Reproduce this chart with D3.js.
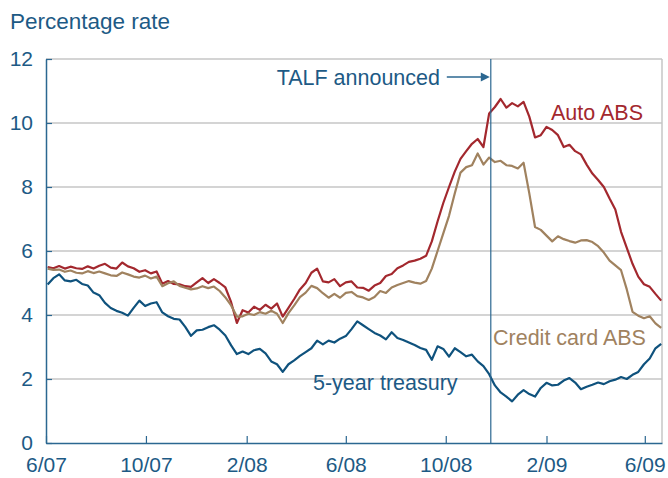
<!DOCTYPE html>
<html>
<head>
<meta charset="utf-8">
<script src="https://cdn.jsdelivr.net/npm/d3@7"></script>
<style>
  body { margin: 0; background: #fff; }
  svg text { font-family: "Liberation Sans", Arial, sans-serif; }
</style>
</head>
<body>
<svg id="chart" width="668" height="478"></svg>
<script>
// weekly observations, starting Sunday 3 June 2007
const firstWeek = "2007-06-03";
const weekCount = 108;

const autoABS = [5.50,5.46,5.53,5.45,5.51,5.46,5.44,5.52,5.45,5.54,
  5.60,5.48,5.45,5.64,5.52,5.46,5.35,5.40,5.30,5.36,
  4.98,5.06,4.97,4.96,4.90,4.88,5.02,5.15,5.00,5.12,
  5.00,4.86,4.40,3.75,4.15,4.08,4.26,4.16,4.32,4.20,
  4.36,3.95,4.22,4.50,4.80,5.00,5.32,5.45,5.05,5.02,
  5.12,4.90,5.02,5.05,4.86,4.85,4.76,4.92,5.00,5.22,
  5.28,5.46,5.55,5.66,5.70,5.76,5.85,6.30,6.92,7.50,
  8.00,8.48,8.88,9.12,9.35,9.50,9.25,10.30,10.50,10.75,
  10.48,10.62,10.52,10.66,10.20,9.55,9.62,9.88,9.78,9.62,
  9.25,9.32,9.12,9.02,8.70,8.42,8.22,8.00,7.64,7.30,
  6.60,6.10,5.60,5.20,4.96,4.88,4.66,4.45];

const creditCardABS = [5.45,5.41,5.42,5.35,5.39,5.32,5.30,5.37,5.31,5.36,
  5.30,5.24,5.22,5.33,5.27,5.20,5.17,5.23,5.14,5.20,
  4.90,4.99,5.05,4.91,4.85,4.80,4.83,4.90,4.84,4.89,
  4.75,4.55,4.30,3.95,3.96,4.04,4.00,4.09,4.04,4.13,
  4.04,3.75,4.06,4.30,4.56,4.70,4.91,4.84,4.68,4.54,
  4.66,4.54,4.69,4.72,4.59,4.55,4.47,4.56,4.75,4.69,
  4.86,4.94,5.00,5.06,5.01,4.98,5.06,5.45,6.00,6.55,
  7.10,7.80,8.45,8.62,8.68,9.05,8.70,8.92,8.78,8.82,
  8.68,8.66,8.58,8.76,7.80,6.75,6.66,6.48,6.30,6.46,
  6.37,6.31,6.26,6.33,6.34,6.28,6.15,5.95,5.70,5.55,
  5.40,4.80,4.10,3.98,3.90,3.96,3.74,3.60];

const treasury5y = [4.95,5.15,5.27,5.08,5.05,5.10,4.97,4.92,4.70,4.62,
  4.38,4.22,4.13,4.07,3.98,4.22,4.45,4.28,4.36,4.40,
  4.08,3.96,3.88,3.86,3.63,3.35,3.52,3.54,3.62,3.68,
  3.54,3.36,3.05,2.78,2.86,2.78,2.90,2.94,2.80,2.55,
  2.46,2.22,2.46,2.58,2.72,2.84,2.96,3.20,3.08,3.20,
  3.14,3.26,3.34,3.56,3.80,3.68,3.56,3.44,3.36,3.24,
  3.46,3.28,3.22,3.14,3.06,2.97,2.91,2.60,3.02,2.94,
  2.70,2.96,2.84,2.71,2.76,2.55,2.40,2.15,1.80,1.58,
  1.45,1.30,1.51,1.65,1.53,1.45,1.72,1.88,1.80,1.82,
  1.95,2.03,1.89,1.68,1.76,1.82,1.89,1.84,1.93,1.98,
  2.06,2.00,2.13,2.22,2.46,2.64,2.96,3.10];

const xTicks = ["2007-06-01","2007-10-01","2008-02-01","2008-06-01","2008-10-01","2009-02-01","2009-06-01"];
const yTicks = [0, 2, 4, 6, 8, 10, 12];
const talfDate = "2008-11-25";

const parse = d3.timeParse("%Y-%m-%d");
const weeks = d3.range(weekCount).map(i => d3.timeDay.offset(parse(firstWeek), 7 * i));

const textBlue = "#1d5a85";
const axisBlue = "#2b6791";

const margin = { left: 46, right: 6, top: 59, bottom: 35 };
const width = 668, height = 478;

const svg = d3.select("#chart");

const x = d3.scaleTime()
  .domain([parse("2007-06-01"), parse("2009-06-22")])
  .range([margin.left, width - margin.right]);

const y = d3.scaleLinear()
  .domain([0, 12])
  .range([height - margin.bottom, margin.top]);

// gridlines
svg.append("g")
  .selectAll("line")
  .data(yTicks.filter(d => d > 0))
  .join("line")
  .attr("x1", margin.left)
  .attr("x2", width - margin.right)
  .attr("y1", d => y(d))
  .attr("y2", d => y(d))
  .attr("stroke", "#c6c6c6")
  .attr("stroke-width", 1.5);

// right frame
svg.append("line")
  .attr("x1", width - margin.right).attr("x2", width - margin.right)
  .attr("y1", y(12)).attr("y2", y(0))
  .attr("stroke", "#c6c6c6")
  .attr("stroke-width", 1.5);

// series
const series = [
  { values: autoABS, color: "#a3282e" },
  { values: creditCardABS, color: "#a0825f" },
  { values: treasury5y, color: "#0f527d" }
];

const line = d3.line()
  .x((d, i) => x(weeks[i]))
  .y(d => y(d));

svg.append("g")
  .selectAll("path")
  .data(series)
  .join("path")
  .attr("fill", "none")
  .attr("stroke", d => d.color)
  .attr("stroke-width", 2.2)
  .attr("stroke-linejoin", "round")
  .attr("d", d => line(d.values));

// axes
const xAxis = d3.axisBottom(x)
  .tickValues(xTicks.map(parse))
  .tickFormat(d3.timeFormat("%-m/%y"))
  .tickSizeInner(-7)
  .tickSizeOuter(0)
  .tickPadding(14);

const yAxis = d3.axisLeft(y)
  .tickValues(yTicks)
  .tickFormat(d3.format("d"))
  .tickSizeInner(-6)
  .tickSizeOuter(0)
  .tickPadding(13);

const gx = svg.append("g")
  .attr("transform", `translate(0,${y(0)})`)
  .call(xAxis);

const gy = svg.append("g")
  .attr("transform", `translate(${margin.left},0)`)
  .call(yAxis);

[gx, gy].forEach(g => {
  g.select(".domain").attr("stroke", axisBlue).attr("stroke-width", 1.5);
  g.selectAll(".tick line").attr("stroke", axisBlue).attr("stroke-width", 1.2);
  g.selectAll(".tick text")
    .attr("fill", textBlue)
    .style("font-size", "21px");
});

// TALF marker
const talfX = x(parse(talfDate));
svg.append("line")
  .attr("x1", talfX).attr("x2", talfX)
  .attr("y1", y(12)).attr("y2", y(0))
  .attr("stroke", axisBlue)
  .attr("stroke-width", 1.2);

svg.append("line")
  .attr("x1", talfX - 44).attr("x2", talfX - 8)
  .attr("y1", 77).attr("y2", 77)
  .attr("stroke", axisBlue)
  .attr("stroke-width", 1.3);

svg.append("path")
  .attr("d", `M${talfX - 1},77 L${talfX - 10},72.5 L${talfX - 10},81.5 Z`)
  .attr("fill", axisBlue);

// labels
const labels = [
  { text: "TALF announced", x: 440, y: 85, anchor: "end", color: textBlue },
  { text: "Auto ABS", x: 551, y: 120, anchor: "start", color: "#a3282e" },
  { text: "Credit card ABS", x: 493, y: 345, anchor: "start", color: "#a0825f" },
  { text: "5-year treasury", x: 313, y: 390, anchor: "start", color: textBlue }
];

svg.append("g")
  .selectAll("text")
  .data(labels)
  .join("text")
  .attr("x", d => d.x)
  .attr("y", d => d.y)
  .attr("text-anchor", d => d.anchor)
  .attr("fill", d => d.color)
  .style("font-size", "21.5px")
  .text(d => d.text);

svg.append("text")
  .attr("x", 10)
  .attr("y", 29)
  .attr("fill", textBlue)
  .style("font-size", "22.5px")
  .text("Percentage rate");
</script>
</body>
</html>
